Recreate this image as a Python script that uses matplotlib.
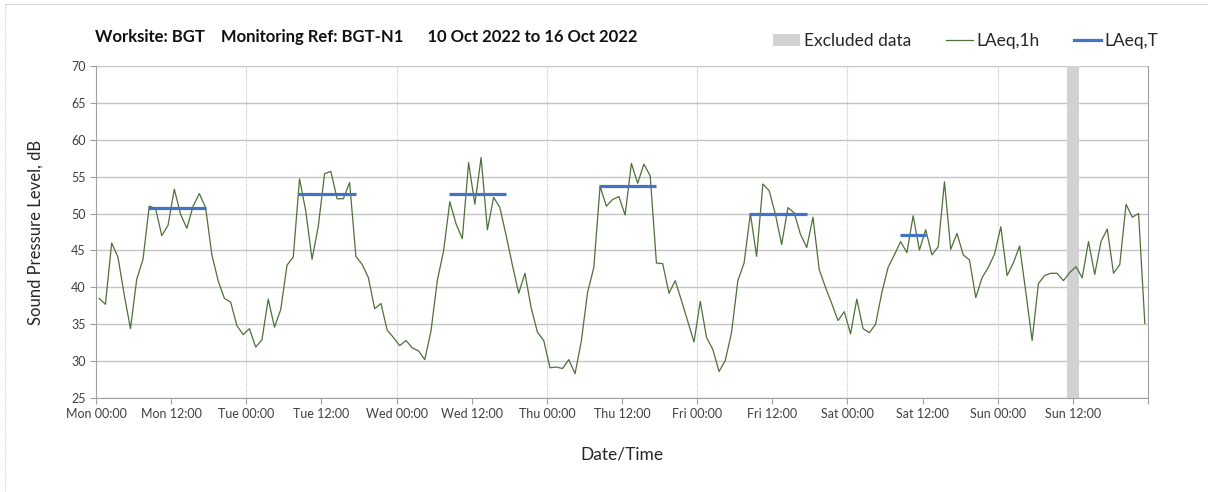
import numpy as np
import pandas as pd
import matplotlib
matplotlib.use("Agg")
import matplotlib.pyplot as plt
from matplotlib.lines import Line2D
from matplotlib.patches import Patch

plt.rcParams['font.family'] = ['Lato', 'DejaVu Sans']

# ----------------------------
# Data
# ----------------------------
start = "2022-10-10 00:30"
laeq_1h = [
    38.5, 37.7, 46.0, 44.1, 39.0, 34.4, 41.1, 43.8, 51.0, 50.7, 47.0, 48.4,
    53.3, 49.9, 48.0, 51.0, 52.7, 50.8, 44.4, 40.9, 38.5, 38.0, 34.8, 33.6,
    34.4, 31.9, 32.9, 38.4, 34.6, 37.0, 43.0, 44.1, 54.7, 50.3, 43.8, 48.3,
    55.4, 55.7, 52.0, 52.0, 54.2, 44.2, 43.1, 41.3, 37.1, 37.8, 34.2, 33.2,
    32.1, 32.8, 31.8, 31.4, 30.2, 34.1, 40.9, 44.9, 51.6, 48.6, 46.6, 56.9,
    51.25, 57.6, 47.8, 52.2, 50.8, 47.0, 43.0, 39.2, 41.9, 37.2, 33.9, 32.8,
    29.1, 29.2, 29.0, 30.2, 28.3, 32.7, 39.3, 42.7, 53.7, 51.0, 51.9, 52.3,
    49.8, 56.8, 54.1, 56.7, 55.1, 43.3, 43.2, 39.2, 40.9, 38.2, 35.4, 32.6,
    38.1, 33.2, 31.6, 28.6, 30.1, 33.9, 40.9, 43.3, 50.0, 44.2, 54.0, 53.1,
    49.9, 45.8, 50.8, 50.1, 47.2, 45.4, 49.5, 42.4, 40.0, 37.8, 35.5, 36.7,
    33.7, 38.4, 34.4, 33.85, 35.0, 39.3, 42.7, 44.4, 46.2, 44.7, 49.7, 45.05,
    47.8, 44.4, 45.5, 54.3, 45.15, 47.3, 44.4, 43.7, 38.6, 41.3, 42.7, 44.5,
    48.2, 41.6, 43.3, 45.6, 39.3, 32.8, 40.5, 41.6, 41.9, 41.9, 40.9, 42.0,
    42.8, 41.3, 46.2, 41.75, 46.2, 47.9, 41.9, 43.1, 51.25, 49.5, 50.0, 35.1,
]

period_start = ["2022-10-10 08:20", "2022-10-11 08:20", "2022-10-12 08:20",
                "2022-10-13 08:20", "2022-10-14 08:20", "2022-10-15 08:20"]
period_end = ["2022-10-10 17:30", "2022-10-11 17:30", "2022-10-12 17:30",
              "2022-10-13 17:30", "2022-10-14 17:30", "2022-10-15 12:35"]
laeq_t = [50.75, 52.6, 52.6, 53.7, 50.0, 47.1]

excluded = ("2022-10-16 11:00", "2022-10-16 13:00")

times = pd.date_range(start, periods=len(laeq_1h), freq="h")

# ----------------------------
# Plot
# ----------------------------
fig = plt.figure(figsize=(12.08, 4.92), dpi=100)
ax = fig.add_axes([0.0795, 0.191, 0.8708, 0.675])

ax.axvspan(pd.Timestamp(excluded[0]), pd.Timestamp(excluded[1]),
           color='#d2d2d2', lw=0, zorder=1)
ax.plot(times, laeq_1h, color='#4f7038', lw=0.9, zorder=3)
for s, e, v in zip(period_start, period_end, laeq_t):
    ax.plot([pd.Timestamp(s), pd.Timestamp(e)], [v, v], color='#4472c4',
            lw=2.3, solid_capstyle='butt', zorder=4)

ax.set_xlim(pd.Timestamp("2022-10-10 00:00"), pd.Timestamp("2022-10-17 00:00"))
ax.set_ylim(25, 70)
ax.set_yticks(np.arange(25, 71, 5))

ticks = pd.date_range("2022-10-10 00:00", "2022-10-17 00:00", freq="12h")
ax.set_xticks(ticks)
ax.set_xticklabels([t.strftime("%a %H:%M") for t in ticks[:-1]] + [""])

midnights = pd.date_range("2022-10-11", "2022-10-16", freq="D")
for m in midnights:
    ax.axvline(m, color='#c8c8c8', lw=0.8, ls=(0, (1, 1)), zorder=0)
ax.yaxis.grid(True, color='#c4c4c4', lw=1.0, zorder=0)
ax.set_axisbelow(True)

for side in ['left', 'bottom', 'right']:
    ax.spines[side].set_color('#a0a0a0')
ax.spines['top'].set_visible(False)
ax.tick_params(axis='both', colors='#a0a0a0', labelcolor='#404040',
               labelsize=9, length=4)

ax.set_ylabel("Sound Pressure Level, dB", fontsize=12, color='#262626',
              labelpad=20)
ax.set_xlabel("Date/Time", fontsize=12.5, color='#262626', labelpad=19)

fig.text(0.079, 0.925, "Worksite: BGT    Monitoring Ref: BGT-N1      10 Oct 2022 to 16 Oct 2022",
         fontsize=12, fontweight='bold', va='center', ha='left', color='#111111')

handles = [Patch(facecolor='#d2d2d2', edgecolor='none'),
           Line2D([], [], color='#4f7038', lw=0.9),
           Line2D([], [], color='#4472c4', lw=2.3)]
fig.legend(handles, ["Excluded data", "LAeq,1h", "LAeq,T"],
           loc='center left', bbox_to_anchor=(0.633, 0.916), ncol=3,
           frameon=False, fontsize=12.5, handlelength=1.55, handletextpad=0.2,
           columnspacing=2.0, borderpad=0, labelcolor='#262626')

# light frame round the chart
fig.add_artist(Line2D([0.004, 1], [0.992, 0.992], transform=fig.transFigure,
                      color='#d9d9d9', lw=0.8))
fig.add_artist(Line2D([0.004, 0.004], [0, 0.992], transform=fig.transFigure,
                      color='#d0d0d0', lw=0.8, ls=(0, (1, 1))))

fig.savefig("out.png", dpi=100)
